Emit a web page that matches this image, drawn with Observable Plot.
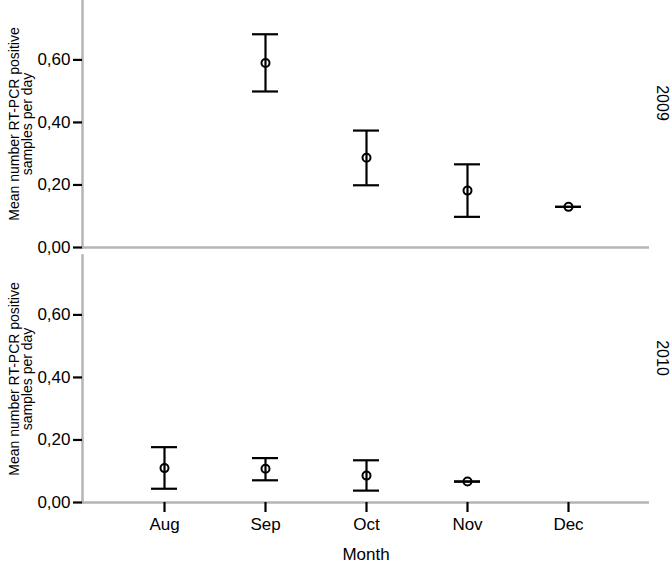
<!DOCTYPE html>
<html>
<head>
<meta charset="utf-8">
<script src="https://cdn.jsdelivr.net/npm/d3@7"></script>
<script src="https://cdn.jsdelivr.net/npm/@observablehq/plot@0.6"></script>
<style>
  html, body { margin: 0; padding: 0; background: #fff; }
</style>
</head>
<body>
<div id="chart"></div>
<script>
const months = ["Aug", "Sep", "Oct", "Nov", "Dec"];
const years = ["2009", "2010"];
const yTicks = [0, 0.2, 0.4, 0.6];

const months2009 = ["Sep", "Oct", "Nov", "Dec"];
const mean2009 = [0.590, 0.287, 0.182, 0.130];
const lower2009 = [0.499, 0.199, 0.098, 0.130];
const upper2009 = [0.682, 0.374, 0.266, 0.130];

const months2010 = ["Aug", "Sep", "Oct", "Nov"];
const mean2010 = [0.110, 0.108, 0.086, 0.067];
const lower2010 = [0.044, 0.071, 0.038, 0.067];
const upper2010 = [0.177, 0.142, 0.135, 0.067];

const yTitle = "Mean number RT-PCR positive\nsamples per day";
const xTitle = "Month";

const rows = [
  ...months2009.map((m, i) => ({year: "2009", month: m, mean: mean2009[i], lo: lower2009[i], hi: upper2009[i]})),
  ...months2010.map((m, i) => ({year: "2010", month: m, mean: mean2010[i], lo: lower2010[i], hi: upper2010[i]}))
];

const fmt = d => d3.format(".2f")(d).replace(".", ",");
const axisGray = "#b4b4b4";

const chart = Plot.plot({
  width: 672,
  height: 562,
  marginLeft: 82,
  marginRight: 23,
  marginTop: 0,
  marginBottom: 59,
  style: {fontFamily: "'Liberation Sans', Arial, sans-serif", color: "#000", background: "#fff"},
  x: {type: "band", domain: months, paddingInner: 0.745, paddingOuter: 0.652},
  y: {domain: [0, 0.79]},
  fy: {domain: years, paddingInner: 0.031, paddingOuter: 0, axis: null},
  marks: [
    Plot.frame({anchor: "left", stroke: axisGray, strokeWidth: 2.5}),
    Plot.ruleY([0], {stroke: axisGray, strokeWidth: 2.5}),
    Plot.axisY({ticks: yTicks, tickFormat: fmt, tickSize: 9, tickPadding: 3, fontSize: 17, strokeWidth: 2.2, label: null}),
    Plot.axisX({tickSize: 10, tickPadding: 5, fontSize: 17, strokeWidth: 2.2, label: xTitle, labelAnchor: "center", labelOffset: 57}),
    Plot.ruleX(rows, {x: "month", y1: "lo", y2: "hi", fy: "year", stroke: "#000", strokeWidth: 2.2}),
    Plot.tickY(rows, {x: "month", y: "lo", fy: "year", stroke: "#000", strokeWidth: 2.2}),
    Plot.tickY(rows, {x: "month", y: "hi", fy: "year", stroke: "#000", strokeWidth: 2.2}),
    Plot.dot(rows, {x: "month", y: "mean", fy: "year", r: 4, stroke: "#000", strokeWidth: 2, fill: "none"}),
    Plot.text(years, {fy: d => d, text: d => d, frameAnchor: "right", textAnchor: "middle", dx: 13, dy: -21, rotate: 90, fontSize: 16, fill: "#000"}),
    Plot.text(years, {fy: d => d, text: () => yTitle, frameAnchor: "left", textAnchor: "middle", dx: -61, rotate: -90, fontSize: 14, lineHeight: 0.93, fill: "#000"})
  ]
});
document.getElementById("chart").appendChild(chart);
</script>
</body>
</html>
